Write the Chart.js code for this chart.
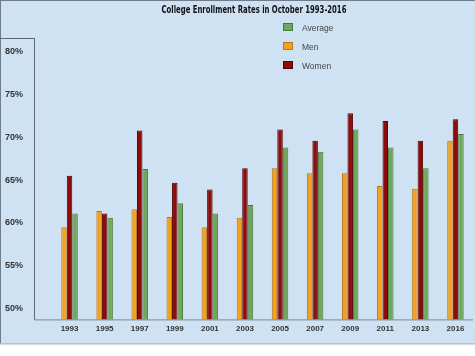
<!DOCTYPE html>
<html>
<head>
<meta charset="utf-8">
<script src="https://cdn.jsdelivr.net/npm/chart.js@4/dist/chart.umd.min.js"></script>
<style>
  html, body { margin: 0; padding: 0; background: #ffffff; }
  canvas { display: block; }
</style>
</head>
<body>
<canvas id="c" width="475" height="356"></canvas>
<script>
const titleText = 'College Enrollment Rates in October 1993-2016';
const years = ['1993', '1995', '1997', '1999', '2001', '2003', '2005', '2007', '2009', '2011', '2013', '2016'];
const men = [59.5, 61.4, 61.6, 60.7, 59.5, 60.6, 66.4, 65.8, 65.8, 64.3, 64.0, 69.6];
const women = [65.5, 61.1, 70.8, 64.7, 63.9, 66.4, 70.9, 69.6, 72.8, 71.9, 69.6, 72.1];
const average = [61.1, 60.6, 66.3, 62.3, 61.1, 62.1, 68.8, 68.3, 70.9, 68.8, 66.4, 70.4];
const yTickValues = [50, 55, 60, 65, 70, 75, 80];
const yTickLabels = ['50%', '55%', '60%', '65%', '70%', '75%', '80%'];
const seriesNames = ['Men', 'Women', 'Average'];
const legendOrder = [2, 0, 1];

const decor = {
  id: 'decor',
  beforeDraw(chart) {
    const ctx = chart.ctx;
    const ca = chart.chartArea;
    ctx.save();
    ctx.fillStyle = '#ffffff';
    ctx.fillRect(0, 0, chart.width, chart.height);
    ctx.fillStyle = '#cfe2f3';
    ctx.fillRect(0, 0, chart.width, ca.bottom + 24);
    ctx.restore();
  },
  afterDraw(chart) {
    const ctx = chart.ctx;
    const ca = chart.chartArea;
    ctx.save();
    // outer frame lines
    ctx.strokeStyle = '#6f7d8b';
    ctx.lineWidth = 1;
    ctx.beginPath();
    ctx.moveTo(0, 0.5); ctx.lineTo(chart.width, 0.5);
    ctx.moveTo(0.5, 0); ctx.lineTo(0.5, ca.bottom + 24);
    ctx.stroke();
    // y-axis box
    const axX = ca.left - 17.5;
    ctx.strokeStyle = '#5f6770';
    ctx.beginPath();
    ctx.moveTo(0, ca.top + 0.5); ctx.lineTo(axX, ca.top + 0.5);
    ctx.moveTo(axX, ca.top); ctx.lineTo(axX, ca.bottom + 0.5);
    ctx.stroke();
    // x-axis line
    ctx.strokeStyle = '#7d8790';
    ctx.beginPath();
    ctx.moveTo(axX, ca.bottom + 0.5); ctx.lineTo(ca.right, ca.bottom + 0.5);
    ctx.stroke();
    // bottom line
    ctx.strokeStyle = '#9aa6b1';
    ctx.beginPath();
    ctx.moveTo(0, ca.bottom + 24.5); ctx.lineTo(chart.width, ca.bottom + 24.5);
    ctx.stroke();
    // title (condensed heavy look)
    ctx.save();
    ctx.translate(254, 10);
    ctx.scale(0.73, 1);
    ctx.fillStyle = '#111111';
    ctx.font = 'bold 10.5px "Liberation Sans Narrow", "DejaVu Sans Condensed", sans-serif';
    ctx.textAlign = 'center';
    ctx.textBaseline = 'middle';
    ctx.fillText(titleText, 0, 0);
    ctx.restore();
    // legend
    ctx.font = '8.5px "Liberation Sans", Arial, sans-serif';
    ctx.textAlign = 'left';
    ctx.textBaseline = 'middle';
    legendOrder.forEach((di, k) => {
      const ds = chart.data.datasets[di];
      const cy = 27 + k * 19;
      ctx.fillStyle = ds.backgroundColor;
      ctx.fillRect(283.5, cy - 3.5, 9, 7);
      ctx.strokeStyle = ds.borderColor;
      ctx.strokeRect(283.5, cy - 3.5, 9, 7);
      ctx.fillStyle = '#444444';
      ctx.fillText(ds.label, 302, cy + 2);
    });
    ctx.restore();
  }
};

new Chart(document.getElementById('c'), {
  type: 'bar',
  data: {
    labels: years,
    datasets: [
      { label: seriesNames[0], data: men, backgroundColor: '#f4a11f', borderColor: '#b7761c', borderWidth: 1 },
      { label: seriesNames[1], data: women, backgroundColor: '#8c0b0b', borderColor: '#560000', borderWidth: 1 },
      { label: seriesNames[2], data: average, backgroundColor: '#70a75c', borderColor: '#4a7a3b', borderWidth: 1 }
    ]
  },
  options: {
    responsive: false,
    animation: false,
    devicePixelRatio: 1,
    layout: { padding: { left: 5, right: 2, top: 38, bottom: 17 } },
    datasets: { bar: { categoryPercentage: 0.47, barPercentage: 1.0 } },
    plugins: {
      legend: { display: false },
      title: { display: false },
      tooltip: { enabled: false }
    },
    scales: {
      x: {
        grid: { display: false, drawTicks: false },
        border: { display: false },
        ticks: {
          padding: 5,
          color: '#333333',
          font: { family: '"Liberation Sans", Arial, sans-serif', size: 8, weight: 'bold' },
          maxRotation: 0, autoSkip: false
        }
      },
      y: {
        min: 48.73,
        max: 81.6,
        grid: { display: false, drawTicks: false },
        border: { display: false },
        afterFit(scale) { scale.width = 47; },
        afterBuildTicks(scale) { scale.ticks = yTickValues.map(v => ({ value: v })); },
        ticks: {
          crossAlign: 'far',
          color: '#333333',
          font: { family: '"Liberation Sans", Arial, sans-serif', size: 9, weight: 'bold' },
          callback(value) {
            const i = yTickValues.indexOf(value);
            return i >= 0 ? yTickLabels[i] : '';
          }
        }
      }
    }
  },
  plugins: [decor]
});
</script>
</body>
</html>
